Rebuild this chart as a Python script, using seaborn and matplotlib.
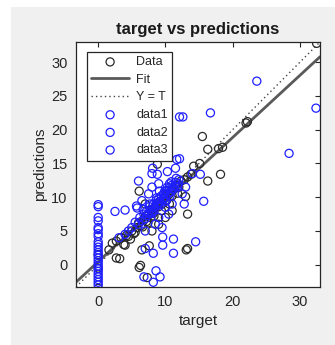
import numpy as np
import pandas as pd
import matplotlib
matplotlib.use("Agg")
import matplotlib.pyplot as plt
import seaborn as sns
from matplotlib.patches import Rectangle

sns.set_theme(style="white")
plt.rcParams['font.family'] = ['Liberation Sans', 'DejaVu Sans']

# ---- data ----
data_x = [0, 0, 0, 1.6, 2.7, 3.2, 2.1, 4.0, 2.7, 3.4, 4.2, 6.3, 7.3, 6.5, 7.6, 13.1,
          6.1, 4.5, 5.0, 5.3, 5.8, 6.0, 6.4, 6.8, 7.0, 7.2, 7.5, 7.8, 8.0, 8.2, 8.5,
          8.7, 9.0, 9.2, 9.5, 9.8, 10.0, 10.2, 10.5, 10.8, 11.0, 11.3, 11.6, 12.0,
          12.3, 12.8, 13.3, 13.8, 14.2, 15.1, 15.5, 16.3, 17.9, 18.5, 18.2, 16.3,
          13.3, 22.2, 22.0, 32.5, 8.8, 6.1, 13.0, 9.0, 10.0, 8.0, 11.0, 7.0, 13.3,
          5.5, 6.6, 7.4, 8.3, 9.4, 10.6, 11.8, 4.8, 3.8]
data_y = [-3.5, -0.5, 1.5, 2.2, 1.0, 0.9, 3.2, 2.9, 3.5, 4.0, 4.3, -0.1, -1.9, 2.2, 2.8, 2.2,
          -0.4, 4.2, 5.0, 4.6, 5.5, 6.2, 5.8, 6.6, 7.2, 6.4, 7.4, 7.0, 8.1, 7.6, 8.4,
          9.0, 8.6, 9.4, 9.0, 9.8, 10.3, 9.6, 10.4, 11.0, 10.2, 11.2, 11.8, 11.5,
          12.4, 12.6, 13.0, 13.4, 14.6, 15.0, 19.0, 17.1, 17.2, 17.4, 13.4, 12.4,
          7.5, 21.2, 21.0, 32.8, 14.9, 10.9, 10.1, 6.0, 7.0, 5.0, 8.0, 9.0, 2.4,
          4.8, 5.6, 6.2, 7.2, 8.0, 9.0, 10.6, 3.8, 3.0]

data1_x = [0] * 25
data1_y = [-3.0, -2.6, -2.2, -1.8, -1.4, -1.0, -0.6, -0.2, 0.2, 0.6, 1.0, 1.4, 1.8,
           2.2, 2.6, 3.0, 3.4, 4.2, 4.6, 5.2, 5.5, 6.5, 7.0, 8.6, 8.9]

data2_x = [5.0, 5.5, 6.0, 6.2, 6.5, 6.8, 7.0, 7.2, 7.5, 7.6, 7.8, 8.0, 8.2, 8.4, 8.6,
           8.8, 9.0, 9.2, 9.4, 9.6, 9.8, 10.0, 10.2, 10.4, 10.6, 10.8, 11.0, 11.2,
           11.5, 11.8, 12.0, 4.5, 4.0, 3.1, 7.0, 8.5, 9.5, 10.5, 9.0, 11.0, 12.5,
           10.0, 6.5, 7.5, 8.0, 9.0, 13.0, 14.0, 12.8,
           7.3, 7.9, 8.3, 8.9, 9.3, 9.7, 10.1, 10.7, 11.1, 11.4, 11.9, 8.7, 9.9,
           10.3, 10.9, 7.7, 6.7, 9.1, 10.6, 11.6]
data2_y = [5.5, 6.3, 6.0, 7.0, 6.5, 7.5, 6.8, 8.0, 7.6, 8.6, 8.2, 7.8, 9.0, 8.5, 9.5,
           8.8, 9.8, 9.2, 10.2, 9.6, 10.6, 10.0, 11.0, 10.5, 11.4, 10.8, 11.8, 11.2,
           12.2, 11.6, 12.6, 5.0, 4.5, 4.0, 5.0, 6.0, 5.5, 7.5, 7.0, 9.0, 10.5,
           8.5, 9.5, 10.5, 11.5, 12.0, 11.5, 13.5, 9.0,
           7.3, 7.6, 8.0, 9.2, 8.9, 10.4, 9.4, 10.2, 11.3, 11.6, 12.0, 9.9, 10.9,
           11.5, 12.3, 9.0, 8.2, 10.9, 12.0, 12.8]

data3_x = [4.0, 5.7, 5.8, 2.5, 6.0, 8.0, 8.8, 10.3, 11.7, 12.1, 11.5, 8.1, 15.2,
           15.7, 14.5, 11.2, 11.2, 9.6, 9.6, 8.2, 8.6, 9.2, 8.2, 6.8, 7.0, 12.1,
           12.6, 16.7, 23.6, 32.4, 28.4]
data3_y = [8.1, 8.7, 8.4, 7.9, 12.4, 13.5, 13.4, 13.8, 15.6, 15.7, 14.3, 14.3, 13.4,
           9.4, 3.4, 1.7, 3.8, 2.9, 4.1, 1.7, -0.9, -1.8, -2.6, -1.8, 2.4, 21.9,
           21.9, 22.5, 27.2, 23.2, 16.5]

fit_slope = 0.92
fit_intercept = 0.45
axis_lim = [-3.3, 33.0]
x_ticks = [0, 10, 20, 30]
y_ticks = [0, 5, 10, 15, 20, 25, 30]

# ---- figure ----
fig = plt.figure(figsize=(3.35, 3.45), dpi=100)
fig.patch.set_facecolor('white')
fig.add_artist(Rectangle((11 / 335, 0), 1 - 11 / 335, 1 - 7 / 345,
                         transform=fig.transFigure, facecolor='#f0f0f0',
                         edgecolor='none', zorder=0))
ax = fig.add_axes([76 / 335, 1 - 287 / 345, 244 / 335, 245 / 345])
ax.set_facecolor('white')

blue = '#1f1fff'
ms = 34
lw = 0.9

sns.scatterplot(x=data_x, y=data_y, ax=ax, marker='o', s=ms, facecolor='none',
                edgecolor='#2a2a2a', linewidth=lw, label='Data', zorder=3)
fx = np.array(axis_lim)
sns.lineplot(x=fx, y=fit_slope * fx + fit_intercept, ax=ax, color='#5a5a5a',
             linewidth=2.0, label='Fit', zorder=2)
ax.plot(fx, fx, color='#444444', linestyle=(0, (1, 2.2)), linewidth=1.0,
        label='Y = T', zorder=2)
for xs, ys, name in [(data1_x, data1_y, 'data1'), (data2_x, data2_y, 'data2'),
                     (data3_x, data3_y, 'data3')]:
    sns.scatterplot(x=xs, y=ys, ax=ax, marker='o', s=ms, facecolor='none',
                    edgecolor=blue, linewidth=lw, label=name, zorder=4)

ax.set_xlim(axis_lim)
ax.set_ylim(axis_lim)
ax.set_xticks(x_ticks)
ax.set_yticks(y_ticks)
ax.tick_params(direction='in', top=True, right=True, length=3.5, width=0.8,
               labelsize=10.5, colors='#262626', pad=6)
for sp in ax.spines.values():
    sp.set_color('#262626')
    sp.set_linewidth(0.9)

ax.set_title('target vs predictions', fontsize=12, fontweight='bold',
             color='#1a1a1a', pad=6)
ax.set_xlabel('target', fontsize=11, color='#262626', labelpad=3)
ax.set_ylabel('predictions', fontsize=11, color='#262626', labelpad=3)

leg = ax.legend(loc='upper left', bbox_to_anchor=(0.045, 0.96), borderaxespad=0,
                fontsize=9, frameon=True, fancybox=False, framealpha=1,
                edgecolor='#262626', handlelength=3.0, labelspacing=0.45,
                handletextpad=0.6, borderpad=0.35)
leg.get_frame().set_linewidth(0.9)

fig.savefig('out.png', dpi=100, facecolor=fig.get_facecolor())
